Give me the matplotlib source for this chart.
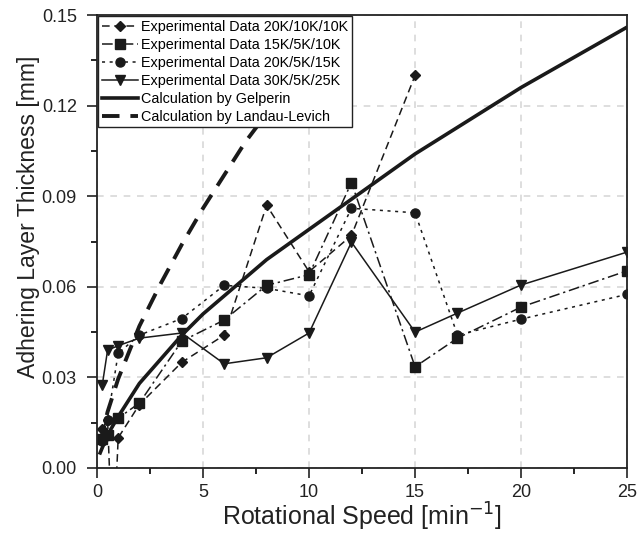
import matplotlib
matplotlib.use("Agg")
import matplotlib.pyplot as plt
from matplotlib.ticker import MultipleLocator

plt.rcParams['font.family'] = ['Liberation Sans', 'DejaVu Sans']

# Experimental data
x_a = [0.25, 0.5, 0.75, 1, 2, 4, 6, 8, 10, 12, 15]
y_a = [0.013, 0.016, -0.03, 0.010, 0.021, 0.035, 0.044, 0.087, 0.065, 0.077, 0.130]

x_b = [0.25, 0.5, 1, 2, 4, 6, 8, 10, 12, 15, 17, 20, 25]
y_b = [0.0095, 0.011, 0.0165, 0.0215, 0.042, 0.049, 0.0605, 0.064, 0.0945, 0.0335, 0.043, 0.0533, 0.0653]

x_c = [0.25, 0.5, 1, 2, 4, 6, 8, 10, 12, 15, 17, 20, 25]
y_c = [0.009, 0.016, 0.038, 0.044, 0.0495, 0.0605, 0.0595, 0.057, 0.086, 0.0845, 0.044, 0.0493, 0.0575]

x_d = [0.25, 0.5, 1, 2, 4, 6, 8, 10, 12, 15, 17, 20, 25]
y_d = [0.0275, 0.039, 0.0405, 0.043, 0.0447, 0.0345, 0.0365, 0.0447, 0.0748, 0.045, 0.0513, 0.0606, 0.0715]

# Calculations
x_gel = [0.15, 0.5, 1, 2, 3, 4, 5, 6, 8, 10, 12, 15, 20, 25]
y_gel = [0.005, 0.011, 0.017, 0.028, 0.036, 0.044, 0.051, 0.057, 0.069, 0.079, 0.089, 0.104, 0.126, 0.146]

x_ll = [0.15, 0.5, 1, 2, 3, 4, 5, 6, 7, 8.5]
y_ll = [0.0084, 0.0186, 0.0295, 0.047, 0.061, 0.074, 0.086, 0.097, 0.108, 0.122]

labels = ["Experimental Data 20K/10K/10K", "Experimental Data 15K/5K/10K",
          "Experimental Data 20K/5K/15K", "Experimental Data 30K/5K/25K",
          "Calculation by Gelperin", "Calculation by Landau-Levich"]

fig = plt.figure(figsize=(6.38, 5.34), dpi=100)
ax = fig.add_axes([0.152, 0.1236, 0.831, 0.8483])

k = '#1a1a1a'
ms = 6.5
ax.plot(x_a, y_a, linestyle=(0, (5, 3)), color=k, lw=1.1, marker='D', ms=5.5, label=labels[0])
ax.plot(x_b, y_b, linestyle=(0, (7, 2.5, 1.5, 2.5)), color=k, lw=1.1, marker='s', ms=ms, label=labels[1])
ax.plot(x_c, y_c, linestyle=(0, (2, 3)), color=k, lw=1.1, marker='o', ms=ms, label=labels[2])
ax.plot(x_d, y_d, linestyle='-', color=k, lw=1.1, marker='v', ms=ms + 0.5, label=labels[3])
ax.plot(x_gel, y_gel, linestyle='-', color=k, lw=2.6, label=labels[4])
ax.plot(x_ll, y_ll, linestyle=(0, (4.5, 2.8)), color=k, lw=2.8, label=labels[5])

ax.set_xlim(0, 25)
ax.set_ylim(0, 0.15)
ax.xaxis.set_major_locator(MultipleLocator(5))
ax.xaxis.set_minor_locator(MultipleLocator(2.5))
ax.yaxis.set_major_locator(MultipleLocator(0.03))
ax.yaxis.set_minor_locator(MultipleLocator(0.015))
ax.set_yticks([0, 0.03, 0.06, 0.09, 0.12, 0.15])
ax.set_yticklabels(["0.00", "0.03", "0.06", "0.09", "0.12", "0.15"])
ax.grid(True, which='major', color='#d8d8d8', linestyle=(0, (4, 4)), lw=1.2)
ax.set_axisbelow(True)

ax.tick_params(which='major', direction='out', length=7, width=1.2, labelsize=13,
               colors='#222222')
ax.tick_params(axis='y', which='major', pad=7.5)
ax.tick_params(axis='x', which='major', pad=4.5)
ax.tick_params(which='minor', direction='out', length=4.5, width=1.2)
for s in ax.spines.values():
    s.set_linewidth(1.3)
    s.set_color('#222222')

ax.set_xlabel("Rotational Speed [min$^{-1}$]", fontsize=18, color='#222222', labelpad=0)
ax.set_ylabel("Adhering Layer Thickness [mm]", fontsize=16.6, color='#222222')
ax.yaxis.set_label_coords(-0.108, 0.555)

leg = ax.legend(loc='upper left', fontsize=10.4, frameon=True, fancybox=False,
                borderaxespad=0.1, handlelength=2.5, handletextpad=0.2,
                labelspacing=0.27, borderpad=0.25, framealpha=1)
leg.get_frame().set_edgecolor('#222222')
leg.get_frame().set_linewidth(1.0)

fig.savefig("out.png", dpi=100)
